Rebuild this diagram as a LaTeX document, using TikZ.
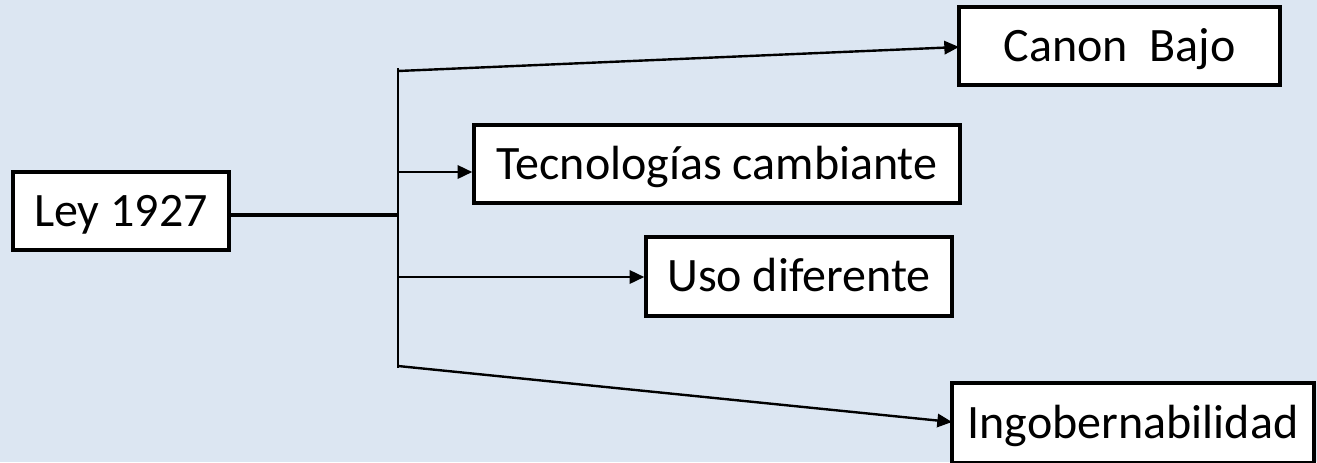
\documentclass[tikz,border=0pt]{standalone}
\usepackage{fontspec}
\setmainfont{Carlito}
\usetikzlibrary{arrows.meta}
\definecolor{bgblue}{RGB}{220,230,242}
\tikzset{
  box/.style={draw=black, fill=white, line width=2.6pt, rectangle, inner sep=0pt,
    font=\fontsize{36}{43}\selectfont, text height=23.2pt, text depth=0pt, anchor=center},
  conn/.style={draw=black, line width=1.8pt},
  arr/.style={conn, -{Triangle[length=11pt,width=10pt]}}
}
\begin{document}
\begin{tikzpicture}[x=0.75pt,y=-0.75pt]
\useasboundingbox (0,0) rectangle (1317,462);
\clip (0,0) rectangle (1317,462);
\fill[bgblue] (0,0) rectangle (1317,462);
% nodes
\node[box, minimum width=216*0.75pt, minimum height=78*0.75pt] (ley) at (121,211) {Ley 1927};
\node[box, minimum width=321*0.75pt, minimum height=78*0.75pt] (canon) at (1119.5,46) {Canon\ \ Bajo};
\node[box, minimum width=486*0.75pt, minimum height=78*0.75pt] (tec) at (717,164) {Tecnologías cambiante};
\node[box, minimum width=306*0.75pt, minimum height=79*0.75pt] (uso) at (799,276.5) {Uso diferente};
\node[box, minimum width=362*0.75pt, minimum height=80*0.75pt] (ingo) at (1133,423) {Ingobernabilidad};
% trunk coordinates
\coordinate (top) at (398,68);
\coordinate (bot) at (398,368);
\coordinate (mid) at (398,215);
\coordinate (b1) at (398,71);
\coordinate (b2) at (398,172);
\coordinate (b3) at (398,277);
\coordinate (b4) at (398,366);
\coordinate (e1) at (959,47);
\coordinate (e4) at (952,422);
% connectors
\draw[conn, line width=2.4pt] (mid -| ley.east) -- (mid);
\draw[conn] (top) -- (bot);
\draw[arr] (b1) -- (e1);
\draw[arr] (b2) -- (b2 -| tec.west);
\draw[arr] (b3) -- (b3 -| uso.west);
\draw[arr] (b4) -- (e4);
\end{tikzpicture}
\end{document}
